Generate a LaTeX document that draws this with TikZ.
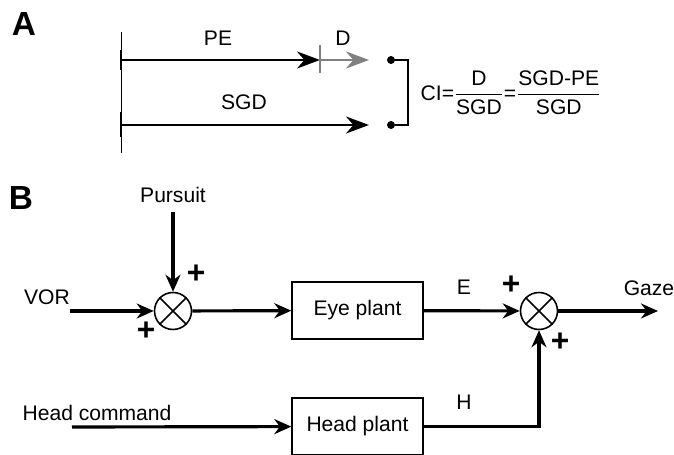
\documentclass[tikz,border=0pt]{standalone}
\usepackage{amsmath}
\usepackage{fontspec}
\setmainfont{Liberation Sans}
\usetikzlibrary{arrows.meta}

\begin{document}
\begin{tikzpicture}[x=0.02cm, y=-0.02cm, >={Stealth[length=3.4mm, width=3mm]},
  every node/.style={font=\fontsize{12}{14}\selectfont},
  sig/.style={line width=1.8pt},
  longtip/.style={-{Stealth[length=4.6mm, width=3.4mm]}},
  box/.style={draw, line width=0.8pt, minimum width=2.62cm, minimum height=1.14cm, inner sep=0pt},
  summer/.style={draw, circle, line width=0.9pt, minimum size=0.74cm, inner sep=0pt},
  dot/.style={circle, fill, inner sep=0pt, minimum size=1.6mm},
  panel/.style={font=\fontsize{19}{21}\selectfont\bfseries},
  sign/.style={font=\fontsize{18}{19}\selectfont\bfseries, inner sep=0pt}]
\useasboundingbox (0,0) rectangle (674,455);

% panel A
\node[panel] (labA) at (24,24) {A};
\coordinate (axtop) at (121,32);
\coordinate (axbot) at (121,153);
\draw[line width=0.5pt] (axtop) -- (axbot);
\draw[line width=1.6pt] (121,50) -- (121,70) (121,112) -- (121,137);
\coordinate (pe0) at (121,60);
\coordinate (pe1) at (320,60);
\coordinate (d1) at (369,60);
\coordinate (sg0) at (121,125);
\coordinate (sg1) at (369,125);
\draw[line width=1.6pt, longtip] (pe0) -- (pe1);
\draw[line width=1.6pt, longtip, gray] (pe1) -- (d1);
\draw[gray, line width=1pt] (320,45) -- (320,73);
\draw[line width=1.6pt, longtip] (sg0) -- (sg1);
\node (pe) at (218,38) {PE};
\node (dlab) at (343,38) {D};
\node (sgd) at (244,102) {SGD};
\node[dot] (dotU) at (391,60) {};
\node[dot] (dotL) at (391,125) {};
\draw[line width=1.2pt] (dotU) -- (408,60) -- (408,125) -- (dotL);
\node (ci) at (511,93)
  {$\text{CI=}\dfrac{\text{D}}{\text{SGD}}\text{=}\dfrac{\text{SGD-PE}}{\text{SGD}}$};

% panel B
\node[panel] (labB) at (21,198) {B};
\node (pursuit) at (173,195) {Pursuit};
\node (vor) at (47,297) {VOR};
\node (headcmd) at (97,413) {Head command};
\node (gaze) at (649,288) {Gaze};
\node (E) at (464,287) {E};
\node (H) at (464,402) {H};
\node[summer] (sum1) at (173,311) {};
\draw[line width=0.9pt] (sum1.45) -- (sum1.225) (sum1.135) -- (sum1.315);
\node[summer] (sum2) at (539,311) {};
\draw[line width=0.9pt] (sum2.45) -- (sum2.225) (sum2.135) -- (sum2.315);
\node[box] (eye) at (357.5,310.5) {Eye plant};
\node[box] (head) at (357.5,426.5) {Head plant};
\node[sign] (p1) at (196,274) {+};
\node[sign] (p2) at (146,331) {+};
\node[sign] (p3) at (511,285) {+};
\node[sign] (p4) at (560,342) {+};
\coordinate (pin) at (173,212);
\coordinate (vorin) at (70,311);
\coordinate (hin) at (72,427);
\coordinate (gazeout) at (658,311);
\draw[sig,->] (pin) -- (sum1);
\draw[sig,->] (vorin) -- (sum1);
\draw[sig,->] (sum1) -- (eye);
\draw[sig,->] (eye) -- (sum2);
\draw[sig,->] (sum2) -- (gazeout);
\draw[sig,->] (hin) -- (head);
\draw[sig,->] (head.east) -| (sum2);
\end{tikzpicture}
\end{document}
